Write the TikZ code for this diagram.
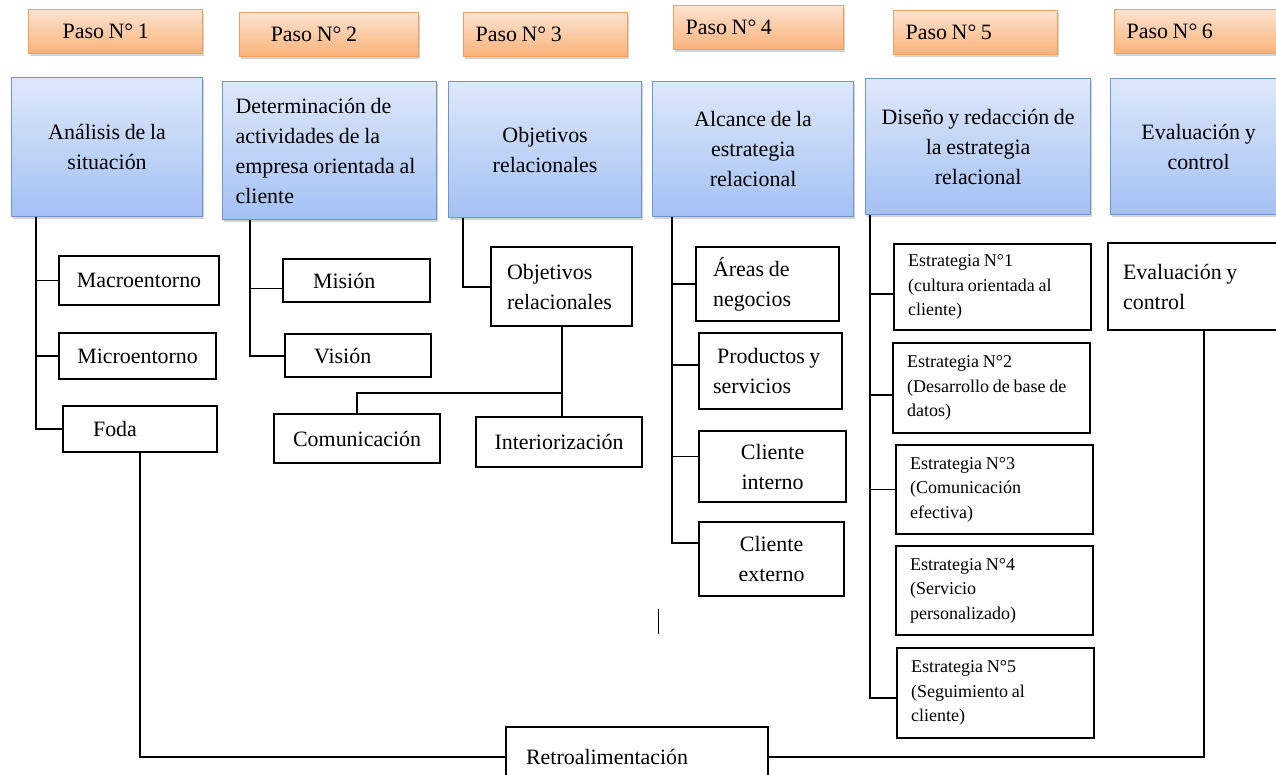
\documentclass[tikz,border=0pt]{standalone}
\usepackage{fontspec}
\setmainfont{Liberation Serif}[WordSpace=0.85]
\usepackage{tikz}
\usetikzlibrary{shadows,positioning}

\definecolor{pasoline}{HTML}{F2A05E}
\definecolor{pasotop}{HTML}{FDE3D0}
\definecolor{pasobot}{HTML}{F9B27A}
\definecolor{faseline}{HTML}{6F95CC}
\definecolor{fasetop}{HTML}{DEE8FA}
\definecolor{fasebot}{HTML}{A3C1F4}

\newcommand{\txtbig}{\fontsize{15.6}{21.3}\selectfont}
\newcommand{\txtsmall}{\fontsize{12.8}{17.5}\selectfont}

\begin{document}
\begin{tikzpicture}[x=0.025cm,y=-0.025cm,
  pasobox/.style={draw=pasoline, line width=0.8pt, top color=pasotop, bottom color=pasobot,
    drop shadow={shadow xshift=1pt, shadow yshift=-1.8pt, opacity=0.35},
    anchor=north west, minimum height=1.1cm, inner xsep=0.3cm, align=flush left, font=\txtbig},
  fasebox/.style={draw=faseline, line width=0.8pt, top color=fasetop, bottom color=fasebot,
    drop shadow={shadow xshift=1pt, shadow yshift=-1.8pt, opacity=0.35},
    anchor=north west, inner sep=0.15cm, align=center, font=\txtbig},
  itembox/.style={draw, line width=1.5pt, fill=white, anchor=north west, align=center, font=\txtbig},
  estbox/.style={itembox, font=\txtsmall, align=flush left, inner xsep=0.35cm, text width=4.225cm},
  spine/.style={line width=1.4pt},
  branch/.style={line width=0.9pt},
  loop/.style={line width=1.3pt}]

\useasboundingbox (0,0) rectangle (1276,775);

\node[pasobox, inner xsep=0.85cm, text width=2.65cm] (p1) at (28,9) {Paso N° 1};
\node[pasobox, inner xsep=0.78cm, text width=2.915cm] (p2) at (239,12) {Paso N° 2};
\node[pasobox, text width=3.5cm] (p3) at (463,12) {Paso N° 3};
\node[pasobox, text width=3.65cm] (p4) at (673,5) {Paso N° 4};
\node[pasobox, text width=3.5cm] (p5) at (893,10) {Paso N° 5};
\node[pasobox, text width=3.9cm] (p6) at (1114,9) {Paso N° 6};

\node[fasebox, minimum width=4.775cm, minimum height=3.475cm] (b1) at (11,77) {Análisis de la\\situación};
\node[fasebox, align=flush left, inner xsep=0.325cm, text width=4.7cm, minimum height=3.45cm] (b2) at (222,81)
  {Determinación de\\actividades de la\\empresa orientada al\\cliente};
\node[fasebox, minimum width=4.825cm, minimum height=3.4cm] (b3) at (448,81) {Objetivos\\relacionales};
\node[fasebox, minimum width=5.025cm, minimum height=3.375cm] (b4) at (652,81) {Alcance de la\\estrategia\\relacional};
\node[fasebox, minimum width=5.625cm, minimum height=3.4cm] (b5) at (865,78) {Diseño y redacción de\\la estrategia\\relacional};
\node[fasebox, minimum width=4.4cm, minimum height=3.4cm] (b6) at (1110,78) {Evaluación y\\control};

% paso 1
\node[itembox, minimum width=4cm, minimum height=1.225cm] (macro) at (58,255) {Macroentorno};
\node[itembox, minimum width=3.925cm, minimum height=1.15cm] (micro) at (58,332) {Microentorno};
\node[itembox, align=flush left, inner xsep=0.75cm, text width=2.35cm, minimum height=1.15cm] (foda) at (62,405) {Foda};

% paso 2
\node[itembox, align=flush left, inner xsep=0.75cm, text width=2.175cm, minimum height=1.075cm] (mision) at (282,258) {Misión};
\node[itembox, align=flush left, inner xsep=0.725cm, text width=2.2cm, minimum height=1.075cm] (vision) at (284,333) {Visión};

% paso 3
\node[itembox, align=flush left, inner xsep=0.4cm, text width=2.725cm, minimum height=1.975cm] (obj) at (490,246) {Objetivos\\relacionales};
\node[itembox, minimum width=4.15cm, minimum height=1.225cm] (com) at (273,413) {Comunicación};
\node[itembox, minimum width=4.15cm, minimum height=1.25cm] (inter) at (475,416) {Interiorización};

% paso 4
\node[itembox, align=flush left, inner xsep=0.425cm, text width=2.725cm, minimum height=1.85cm] (areas) at (695,246) {Áreas de\\negocios};
\node[itembox, align=flush left, inner xsep=0.35cm, text width=2.875cm, minimum height=1.9cm] (prod) at (698,332) {\hspace{0.1cm}Productos y\\servicios};
\node[itembox, minimum width=3.675cm, minimum height=1.775cm] (cint) at (698,430) {Cliente\\interno};
\node[itembox, minimum width=3.625cm, minimum height=1.85cm] (cext) at (698,521) {Cliente\\externo};

% paso 5
\node[estbox, minimum height=2.15cm] (e1) at (893,243) {Estrategia N°1\\(cultura orientada al\\cliente)};
\node[estbox, minimum height=2.25cm] (e2) at (892,342) {Estrategia N°2\\(Desarrollo de base de\\datos)};
\node[estbox, minimum height=2.225cm] (e3) at (895,444) {Estrategia N°3\\(Comunicación\\efectiva)};
\node[estbox, minimum height=2.225cm] (e4) at (895,545) {Estrategia N°4\\(Servicio\\personalizado)};
\node[estbox, minimum height=2.25cm] (e5) at (896,647) {Estrategia N°5\\(Seguimiento al\\cliente)};

% paso 6
\node[itembox, align=flush left, inner xsep=0.375cm, text width=4.05cm, minimum height=2.175cm] (eval) at (1107,242) {Evaluación y\\control};

\node[itembox, align=flush left, inner xsep=0.5cm, text width=5.55cm, minimum height=1.5cm] (retro) at (505,726) {Retroalimentación};

\coordinate (s1) at ([xshift=0.625cm]b1.south west);
\coordinate (s2) at ([xshift=0.7cm]b2.south west);
\coordinate (s3) at ([xshift=0.375cm]b3.south west);
\coordinate (s4) at ([xshift=0.5cm]b4.south west);
\coordinate (s5) at ([xshift=0.125cm]b5.south west);

\draw[spine] (s1) |- (foda.west);
\draw[branch] (macro.west) -| (s1);
\draw[branch] (micro.west) -| (s1);

\draw[spine] (s2) |- (vision.west);
\draw[branch] ([yshift=-0.19cm]mision.west) -| (s2);

\draw[spine] (s3) |- (obj.west);
\draw[spine] (obj.south) -- (obj.south |- inter.north);
\coordinate (j3) at ([yshift=0.575cm]obj.south |- inter.north);
\draw[spine] (j3) -| (com.north);

\draw[spine] (s4) |- ([yshift=0.4cm]cext.west);
\draw[branch] (areas.west) -| (s4);
\draw[branch] ([yshift=0.15cm]prod.west) -| (s4);
\draw[branch] ([yshift=0.25cm]cint.west) -| (s4);

\draw[spine] (s5) |- ([yshift=-0.125cm]e5.west);
\draw[branch] ([yshift=-0.175cm]e1.west) -| (s5);
\draw[branch] ([yshift=-0.175cm]e2.west) -| (s5);
\draw[branch] (e3.west) -| (s5);

\coordinate (t1) at (658,609);
\coordinate (t2) at (658,634);
\draw[line width=0.6pt] (t1) -- (t2);

\draw[loop] (foda.south) |- (retro.west);
\draw[loop] (eval.south) |- (retro.east);

\end{tikzpicture}
\end{document}
